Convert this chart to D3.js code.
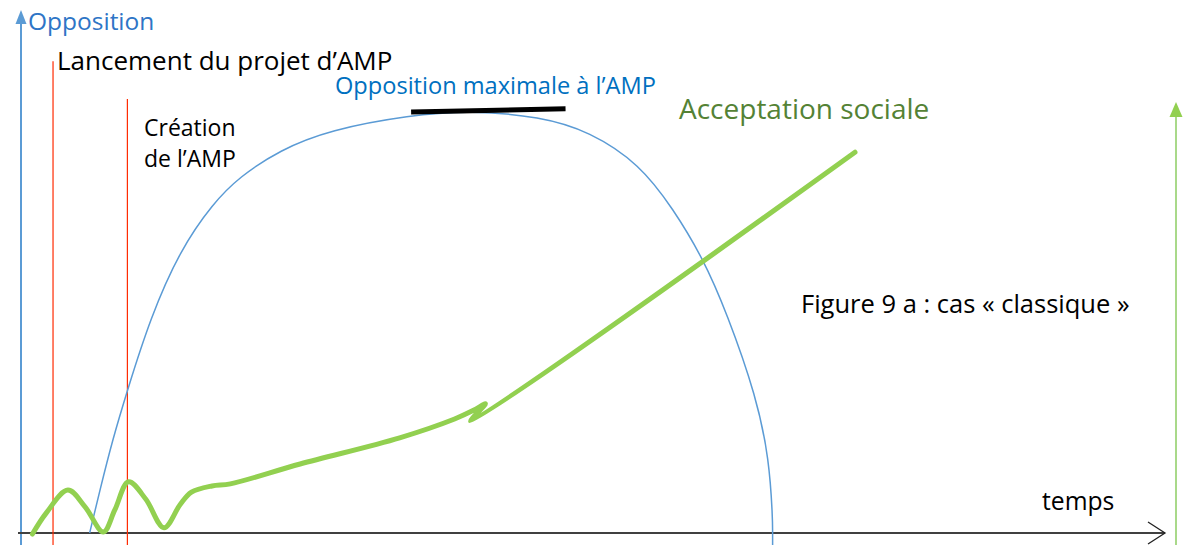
<!DOCTYPE html>
<html>
<head>
<meta charset="utf-8">
<script src="https://cdn.jsdelivr.net/npm/d3@7"></script>
<style>
  body { margin: 0; background: #fff; }
  text { font-family: "Open Sans", Lato, sans-serif; font-variant-ligatures: none; }
</style>
</head>
<body>
<div id="chart"></div>
<script>
// courbes schématiques, unités arbitraires (0-100)
const opposition = [
  [6.0, 0], [6.9, 8.2], [8.0, 17.8], [9.3, 27.3], [11.3, 41.1], [13.9, 54.1],
  [16.8, 63.1], [19.1, 68.1], [22.6, 73.2], [27.0, 77.1], [34.0, 79.9],
  [39.3, 80.8], [45.4, 79.6], [49.7, 76.8], [54.1, 70.5], [57.0, 62.0],
  [59.6, 52.6], [61.7, 42.1], [64.3, 26.0], [65.4, 14.0], [65.7, 3.0],
  [65.7, 0], [65.7, -2.3]
];
const acceptation = [
  [1.0, -0.2], [2.2, 3.8], [4.1, 8.2], [5.6, 5.0], [7.2, 0.2], [8.2, 4.4],
  [9.4, 9.8], [10.9, 6.5], [12.5, 1.0], [13.9, 5.4], [14.9, 7.8], [16.7, 9.0],
  [18.3, 9.4], [24.4, 13.2], [33.1, 18.2], [37.9, 21.8], [39.6, 23.5],
  [40.6, 24.7], [39.3, 21.4], [72.9, 72.8]
];
const plafond = [[34.1, 80.5], [47.6, 81.1]];
const jalons = [{ t: 2.8, top: 90.2 }, { t: 9.3, top: 83.0 }];

const width = 1194;
const height = 545;

const x = d3.scaleLinear().domain([0, 100]).range([21, 1165]);
const y = d3.scaleLinear().domain([0, 100]).range([533, 10]);

const svg = d3
  .select("#chart")
  .append("svg")
  .attr("width", width)
  .attr("height", height)
  .attr("viewBox", [0, 0, width, height]);

// pointe de flèche vers le haut
const head = (cx, tip, w, h, color) =>
  svg.append("path")
    .attr("d", `M${cx},${tip} L${cx + w / 2},${tip + h} L${cx - w / 2},${tip + h} Z`)
    .attr("fill", color);

// axe vertical "Opposition"
svg.append("line")
  .attr("x1", x(0)).attr("x2", x(0))
  .attr("y1", height).attr("y2", 20)
  .attr("stroke", "#5b9bd5").attr("stroke-width", 2);
head(x(0), 10, 11, 14, "#5b9bd5");

// axe vertical vert à droite
svg.append("line")
  .attr("x1", 1176).attr("x2", 1176)
  .attr("y1", height).attr("y2", 112)
  .attr("stroke", "#a9d98a").attr("stroke-width", 2);
head(1176, 102, 13, 15, "#92d050");

// axe du temps
svg.append("line")
  .attr("x1", 18).attr("x2", x(100))
  .attr("y1", y(0)).attr("y2", y(0))
  .attr("stroke", "#404040").attr("stroke-width", 2);
svg.append("path")
  .attr("d", `M${x(100) - 17},${y(0) - 11} L${x(100)},${y(0)} L${x(100) - 17},${y(0) + 11}`)
  .attr("fill", "none").attr("stroke", "#222").attr("stroke-width", 1.3);

// jalons rouges
svg.selectAll("line.jalon")
  .data(jalons)
  .join("line")
  .attr("class", "jalon")
  .attr("x1", (d) => x(d.t)).attr("x2", (d) => x(d.t))
  .attr("y1", (d) => y(d.top)).attr("y2", height)
  .attr("stroke", "#ff2a00").attr("stroke-width", 1.2);

const line = d3.line()
  .x((d) => x(d[0]))
  .y((d) => y(d[1]));

svg.append("path")
  .attr("fill", "none")
  .attr("stroke", "#5b9bd5")
  .attr("stroke-width", 1.5)
  .attr("d", line.curve(d3.curveBasis)(opposition));

svg.append("path")
  .attr("fill", "none")
  .attr("stroke", "#000")
  .attr("stroke-width", 5)
  .attr("d", line.curve(d3.curveLinear)(plafond));

svg.append("path")
  .attr("fill", "none")
  .attr("stroke", "#92d050")
  .attr("stroke-width", 5)
  .attr("stroke-linejoin", "round")
  .attr("stroke-linecap", "round")
  .attr("d", line.curve(d3.curveCatmullRom.alpha(0.5))(acceptation));

// textes
const txt = (tx, ty, s, size, color) =>
  svg.append("text")
    .attr("x", tx).attr("y", ty)
    .attr("font-size", size)
    .attr("fill", color)
    .text(s);

txt(28, 30, "Opposition", 24.5, "#2e75c6");
txt(57, 70, "Lancement du projet d’AMP", 26, "#000");
txt(144, 136, "Création", 23, "#000");
txt(144, 167, "de l’AMP", 23, "#000");
txt(335, 94, "Opposition maximale à l’AMP", 23.6, "#0070c0");
txt(679, 119, "Acceptation sociale", 28, "#548235");
txt(801, 313, "Figure 9 a : cas « classique »", 25.5, "#000");
txt(1042, 510, "temps", 24.7, "#000");
</script>
</body>
</html>
